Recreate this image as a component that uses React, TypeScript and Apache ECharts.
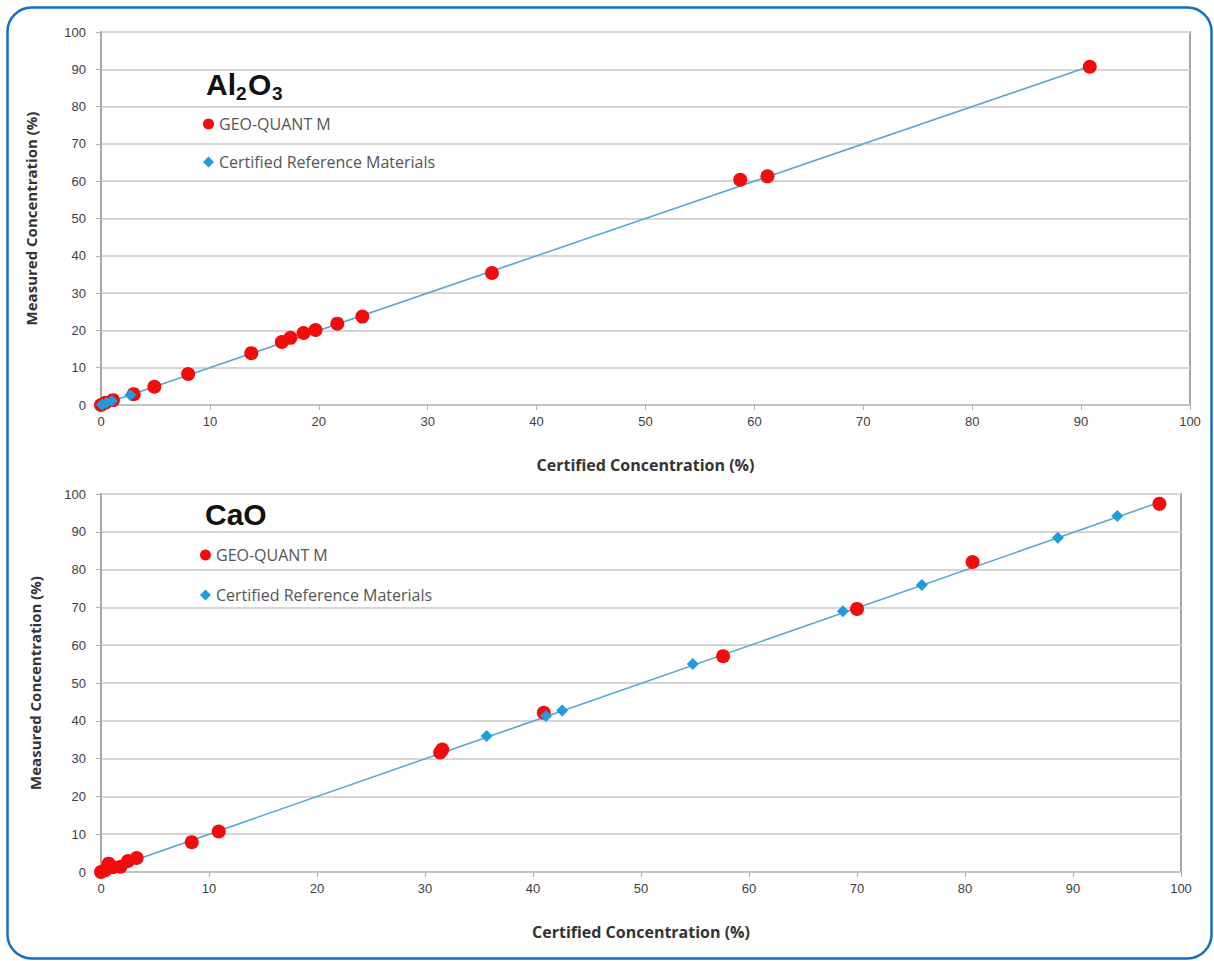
import React, { useEffect, useRef } from "react";
import * as echarts from "echarts";

// ---- Data (Certified %, Measured %) ----
const ticks = [0, 10, 20, 30, 40, 50, 60, 70, 80, 90, 100];

const geoQuantAl2O3: [number, number][] = [
  [0, 0], [0.4, 0.6], [1.1, 1.3], [3.0, 2.9], [4.9, 4.9], [8.0, 8.3],
  [13.8, 13.9], [16.6, 16.9], [17.4, 18.0], [18.6, 19.3], [19.7, 20.1],
  [21.7, 21.8], [24.0, 23.7], [35.9, 35.4], [58.7, 60.4], [61.2, 61.3],
  [90.8, 90.7],
];
const crmAl2O3: [number, number][] = [
  [0.1, 0.1], [0.5, 0.6], [1.0, 1.1], [2.7, 2.7],
];
const lineAl2O3: [number, number][] = [[0, 0], [90.8, 90.8]];

const geoQuantCaO: [number, number][] = [
  [0, 0], [0.4, 0.5], [0.7, 2.2], [1.1, 1.3], [1.8, 1.4], [2.5, 2.9],
  [3.3, 3.7], [8.4, 7.9], [10.9, 10.7], [31.4, 31.6], [31.6, 32.4],
  [41.0, 42.1], [57.6, 57.1], [70.0, 69.6], [80.7, 82.0], [98.0, 97.4],
];
const crmCaO: [number, number][] = [
  [35.7, 36.0], [41.2, 41.3], [42.7, 42.7], [54.8, 55.0], [68.7, 69.0],
  [76.0, 75.9], [88.6, 88.4], [94.1, 94.2],
];
const lineCaO: [number, number][] = [[0, 0], [98.0, 97.8]];

const GEO = "GEO-QUANT M";
const CRM = "Certified Reference Materials";
const RED = "#f20d0d";
const BLUE = "#1f9be0";
const LINE = "#5aa5d2";
const tickFont = "'Liberation Sans Narrow', 'Liberation Sans', Arial, sans-serif";
const nameFont = "'Open Sans', 'Liberation Sans', Arial, sans-serif";

function xAxisCfg(gridIndex: number) {
  return {
    type: "value" as const,
    gridIndex,
    min: 0,
    max: 100,
    interval: 10,
    name: "Certified Concentration (%)",
    nameLocation: "middle" as const,
    nameGap: 52,
    nameTextStyle: { fontFamily: nameFont, fontWeight: "bold", fontSize: 16, color: "#333" },
    axisLine: { show: true, lineStyle: { color: "#c4c4c4", width: 2 } },
    axisTick: { show: true, length: 5, lineStyle: { color: "#b0b0b0", width: 1 } },
    axisLabel: {
      margin: 10,
      fontFamily: tickFont,
      fontSize: 13,
      color: "#404040",
      formatter: (v: number) => (ticks.includes(v) ? String(v) : ""),
    },
    splitLine: { show: false },
  };
}

function yAxisCfg(gridIndex: number, gap: number) {
  return {
    type: "value" as const,
    gridIndex,
    min: 0,
    max: 100,
    interval: 10,
    name: "Measured Concentration (%)",
    nameLocation: "middle" as const,
    nameGap: gap,
    nameTextStyle: { fontFamily: nameFont, fontWeight: "bold", fontSize: 15, color: "#333" },
    axisLine: { show: true, lineStyle: { color: "#a8a8a8", width: 1.5 } },
    axisTick: { show: true, length: 5, lineStyle: { color: "#b0b0b0", width: 1 } },
    axisLabel: {
      margin: 15,
      fontFamily: tickFont,
      fontSize: 13,
      color: "#404040",
    },
    splitLine: { show: true, lineStyle: { color: "#d6d6d6", width: 2 } },
  };
}

function legendCfg(left: number, top: number, gap: number) {
  return {
    left,
    top,
    orient: "vertical" as const,
    itemGap: gap,
    itemWidth: 11,
    itemHeight: 11,
    itemStyle: { borderWidth: 0, opacity: 1 },
    textStyle: { fontFamily: nameFont, fontSize: 16, color: "#555" },
    data: [
      { name: GEO, icon: "circle", itemStyle: { color: RED } },
      { name: CRM, icon: "diamond", itemStyle: { color: BLUE } },
    ],
  };
}

function titleTexts(parts: { t: string; x: number; y: number; sub?: boolean }[]) {
  return parts.map((p) => ({
    type: "text" as const,
    x: p.x,
    y: p.y,
    style: {
      text: p.t,
      fill: "#111",
      font: `bold ${p.sub ? 19 : 30}px 'Liberation Sans', Arial, sans-serif`,
      textAlign: "left",
      textVerticalAlign: "middle",
      align: "left",
      verticalAlign: "middle",
    },
  }));
}

export default function App() {
  const ref = useRef<HTMLDivElement>(null);

  useEffect(() => {
    if (!ref.current) return;
    const chart = echarts.init(ref.current, undefined, { renderer: "svg" });

    const crmPoints = (data: [number, number][], idx: number) => ({
      name: CRM,
      type: "scatter" as const,
      xAxisIndex: idx,
      yAxisIndex: idx,
      data,
      symbol: "diamond",
      symbolSize: 12,
      z: 4,
      itemStyle: { color: BLUE, opacity: 1 },
    });
    const crmLine = (data: [number, number][], idx: number) => ({
      name: CRM,
      type: "line" as const,
      xAxisIndex: idx,
      yAxisIndex: idx,
      data,
      showSymbol: false,
      symbol: "none",
      z: 2,
      itemStyle: { color: BLUE },
      lineStyle: { color: LINE, width: 1.5 },
    });
    const geoScatter = (data: [number, number][], idx: number) => ({
      name: GEO,
      type: "scatter" as const,
      xAxisIndex: idx,
      yAxisIndex: idx,
      data,
      symbol: "circle",
      symbolSize: 14,
      z: 3,
      itemStyle: { color: RED, opacity: 1 },
    });

    chart.setOption({
      animation: false,
      backgroundColor: "#fff",
      grid: [
        { left: 101, top: 32, width: 1089, height: 373, show: true, borderColor: "#a6a6a6", borderWidth: 2 },
        { left: 101, top: 494, width: 1080, height: 378, show: true, borderColor: "#a6a6a6", borderWidth: 2 },
      ],
      xAxis: [xAxisCfg(0), xAxisCfg(1)],
      yAxis: [yAxisCfg(0, 63), yAxisCfg(1, 59)],
      legend: [legendCfg(198, 111, 22), legendCfg(195, 542, 24)],
      series: [
        geoScatter(geoQuantAl2O3, 0),
        crmPoints(crmAl2O3, 0),
        crmLine(lineAl2O3, 0),
        geoScatter(geoQuantCaO, 1),
        crmPoints(crmCaO, 1),
        crmLine(lineCaO, 1),
      ],
      graphic: [
        {
          type: "rect",
          shape: { x: 7.5, y: 7.5, width: 1204, height: 951, r: 24 },
          style: { fill: "none", stroke: "#1570c0", lineWidth: 2.5 },
          z: 100,
        },
        ...titleTexts([
          { t: "Al", x: 206, y: 84 },
          { t: "2", x: 236, y: 93, sub: true },
          { t: "O", x: 248, y: 84 },
          { t: "3", x: 272, y: 93, sub: true },
        ]),
        ...titleTexts([{ t: "CaO", x: 205, y: 514 }]),
      ],
    });

    return () => chart.dispose();
  }, []);

  return (
    <div
      ref={ref}
      style={{ position: "absolute", left: 0, top: 0, width: 1214, height: 961 }}
    />
  );
}
